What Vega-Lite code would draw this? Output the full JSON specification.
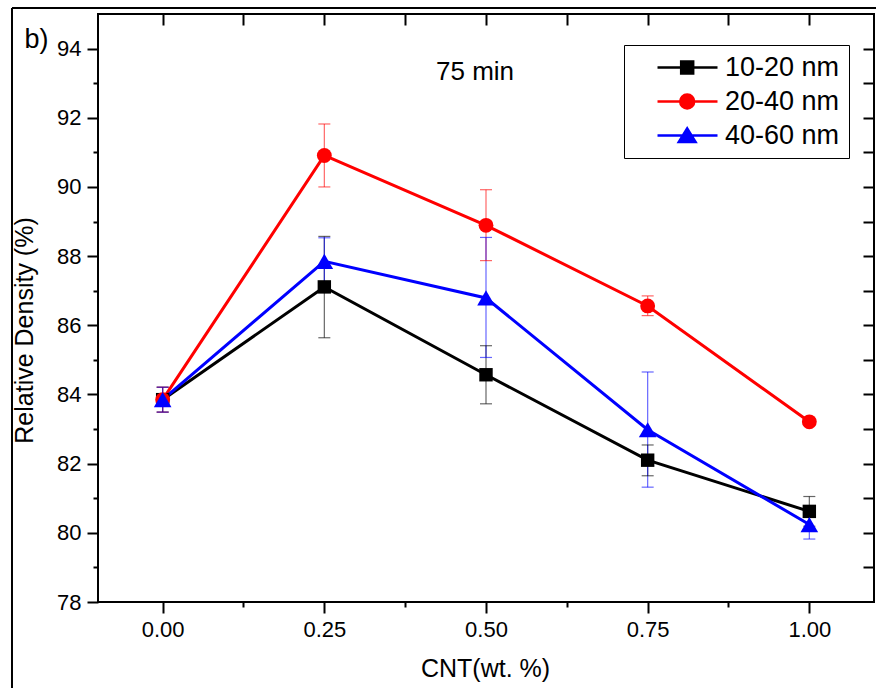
{
  "$schema": "https://vega.github.io/schema/vega-lite/v6.json",
  "width": 776,
  "height": 588,
  "autosize": "none",
  "padding": {"left": 98, "top": 14, "right": 2, "bottom": 86},
  "background": "white",
  "config": {
    "font": "Liberation Sans",
    "view": {"stroke": "black", "strokeWidth": 2},
    "axis": {
      "domain": false, "grid": false, "tickColor": "black", "tickWidth": 2,
      "labelFont": "Liberation Sans", "labelFontSize": 22, "labelColor": "black",
      "titleFont": "Liberation Sans", "titleFontSize": 25, "titleFontWeight": "normal", "titleColor": "black"
    }
  },
  "data": {
    "values": [
      {"cnt": 0, "series": "10-20 nm", "density": 83.85, "lo": 83.49, "hi": 84.21},
      {"cnt": 0.25, "series": "10-20 nm", "density": 87.11, "lo": 85.64, "hi": 88.57},
      {"cnt": 0.5, "series": "10-20 nm", "density": 84.57, "lo": 83.73, "hi": 85.41},
      {"cnt": 0.75, "series": "10-20 nm", "density": 82.10, "lo": 81.65, "hi": 82.54},
      {"cnt": 1.0, "series": "10-20 nm", "density": 80.62, "lo": 80.19, "hi": 81.05},
      {"cnt": 0, "series": "20-40 nm", "density": 83.85, "lo": 83.49, "hi": 84.21},
      {"cnt": 0.25, "series": "20-40 nm", "density": 90.91, "lo": 90.00, "hi": 91.82},
      {"cnt": 0.5, "series": "20-40 nm", "density": 88.89, "lo": 87.87, "hi": 89.92},
      {"cnt": 0.75, "series": "20-40 nm", "density": 86.56, "lo": 86.28, "hi": 86.85},
      {"cnt": 1.0, "series": "20-40 nm", "density": 83.21, "lo": 83.13, "hi": 83.29},
      {"cnt": 0, "series": "40-60 nm", "density": 83.85, "lo": 83.49, "hi": 84.21},
      {"cnt": 0.25, "series": "40-60 nm", "density": 87.85, "lo": 87.17, "hi": 88.53},
      {"cnt": 0.5, "series": "40-60 nm", "density": 86.79, "lo": 85.07, "hi": 88.54},
      {"cnt": 0.75, "series": "40-60 nm", "density": 82.98, "lo": 81.32, "hi": 84.65},
      {"cnt": 1.0, "series": "40-60 nm", "density": 80.24, "lo": 79.82, "hi": 80.66}
    ]
  },
  "layer": [
    {
      "mark": {"type": "rule", "strokeWidth": 1.2, "opacity": 0.6},
      "encoding": {
        "x": {"field": "cnt", "type": "quantitative",
          "scale": {"domain": [-0.1, 1.1], "nice": false, "zero": false},
          "axis": {"orient": "bottom", "values": [0, 0.25, 0.5, 0.75, 1], "format": ".2f", "tickSize": 11, "labelPadding": 6,
            "title": "CNT(wt. %)", "titleX": 387, "titleY": 66, "titleBaseline": "middle", "titleAlign": "center"}},
        "y": {"field": "lo", "type": "quantitative",
          "scale": {"domain": [78, 95], "nice": false, "zero": false},
          "axis": {"orient": "left", "values": [78, 80, 82, 84, 86, 88, 90, 92, 94], "tickSize": 11, "labelPadding": 6,
            "title": "Relative Density (%)", "titleX": -74, "titleY": 316, "titleAngle": -90, "titleBaseline": "middle", "titleAlign": "center"}},
        "y2": {"field": "hi"},
        "color": {"field": "series", "type": "nominal",
          "scale": {"domain": ["10-20 nm", "20-40 nm", "40-60 nm"], "range": ["#000000", "#ff0000", "#0000ff"]}}
      }
    },
    {
      "mark": {"type": "tick", "orient": "horizontal", "size": 12, "thickness": 1.2, "opacity": 0.6},
      "encoding": {
        "x": {"field": "cnt", "type": "quantitative",
          "axis": {"orient": "bottom", "values": [0.125, 0.375, 0.625, 0.875], "tickSize": 5, "labels": false, "title": null}},
        "y": {"field": "hi", "type": "quantitative",
          "axis": {"orient": "left", "values": [79, 81, 83, 85, 87, 89, 91, 93], "tickSize": 5, "labels": false, "title": null}},
        "color": {"field": "series", "type": "nominal"}
      }
    },
    {
      "mark": {"type": "tick", "orient": "horizontal", "size": 12, "thickness": 1.2, "opacity": 0.6},
      "encoding": {
        "x": {"field": "cnt", "type": "quantitative", "axis": null},
        "y": {"field": "lo", "type": "quantitative", "axis": null},
        "color": {"field": "series", "type": "nominal"}
      }
    },
    {
      "mark": {"type": "line", "strokeWidth": 3},
      "encoding": {
        "x": {"field": "cnt", "type": "quantitative",
          "axis": {"orient": "top", "values": [0, 0.125, 0.25, 0.375, 0.5, 0.625, 0.75, 0.875, 1], "tickSize": -11, "labels": false, "title": null}},
        "y": {"field": "density", "type": "quantitative",
          "axis": {"orient": "right", "values": [79, 80, 81, 82, 83, 84, 85, 86, 87, 88, 89, 90, 91, 92, 93, 94], "tickSize": -11, "labels": false, "title": null}},
        "color": {"field": "series", "type": "nominal",
          "legend": {
            "orient": "none", "legendX": 526, "legendY": 31, "title": null,
            "padding": 9, "strokeColor": "black", "fillColor": "white",
            "labelFont": "Liberation Sans", "labelFontSize": 27, "labelColor": "black",
            "labelOffset": 65, "rowPadding": 6, "symbolSize": 576, "symbolStrokeWidth": 2.5,
            "symbolOpacity": 1,
            "encode": {
              "symbols": {
                "update": {
                  "shape": {"signal": "datum.value === '10-20 nm' ? 'M0.917,0H5.917M2.89,-0.5H3.89V0.5H2.89Z' : datum.value === '20-40 nm' ? 'M0.917,0H5.917M2.807,0A0.583,0.583 0 1,0 3.973,0A0.583,0.583 0 1,0 2.807,0Z' : 'M0.917,0H5.917M3.39,-0.6L4.09,0.55L2.69,0.55Z'"},
                  "size": {"value": 576},
                  "fill": {"signal": "datum.value === '10-20 nm' ? '#000000' : datum.value === '20-40 nm' ? '#ff0000' : '#0000ff'"},
                  "stroke": {"signal": "datum.value === '10-20 nm' ? '#000000' : datum.value === '20-40 nm' ? '#ff0000' : '#0000ff'"},
                  "strokeWidth": {"value": 2.5},
                  "opacity": {"value": 1}
                }
              }
            }
          }}
      }
    },
    {
      "transform": [{"filter": "datum.series === '10-20 nm'"}],
      "mark": {"type": "point", "filled": true, "opacity": 1, "shape": "square", "size": 180},
      "encoding": {
        "x": {"field": "cnt", "type": "quantitative", "axis": null},
        "y": {"field": "density", "type": "quantitative", "axis": null},
        "color": {"field": "series", "type": "nominal"}
      }
    },
    {
      "transform": [{"filter": "datum.series === '20-40 nm'"}],
      "mark": {"type": "point", "filled": true, "opacity": 1, "shape": "circle", "size": 220},
      "encoding": {
        "x": {"field": "cnt", "type": "quantitative", "axis": null},
        "y": {"field": "density", "type": "quantitative", "axis": null},
        "color": {"field": "series", "type": "nominal"}
      }
    },
    {
      "transform": [{"filter": "datum.series === '40-60 nm'"}],
      "mark": {"type": "point", "filled": true, "opacity": 1, "shape": "triangle-up", "size": 310},
      "encoding": {
        "x": {"field": "cnt", "type": "quantitative", "axis": null},
        "y": {"field": "density", "type": "quantitative", "axis": null},
        "color": {"field": "series", "type": "nominal"}
      }
    },
    {
      "data": {"values": [{"label": "75 min"}]},
      "mark": {"type": "text", "fontSize": 26, "font": "Liberation Sans", "align": "center", "baseline": "middle", "color": "black"},
      "encoding": {
        "x": {"datum": 0.483, "type": "quantitative", "axis": null},
        "y": {"datum": 93.32, "type": "quantitative", "axis": null},
        "text": {"field": "label"}
      }
    },
    {
      "data": {"values": [{"label": "b)"}]},
      "mark": {"type": "text", "fontSize": 27, "font": "Liberation Sans", "align": "center", "baseline": "middle", "color": "black"},
      "encoding": {
        "x": {"datum": -0.195, "type": "quantitative", "axis": null},
        "y": {"datum": 94.25, "type": "quantitative", "axis": null},
        "text": {"field": "label"}
      }
    },
    {
      "data": {"values": [{}]},
      "mark": {"type": "rule", "strokeWidth": 2, "color": "black"},
      "encoding": {
        "x": {"datum": -0.233, "type": "quantitative", "axis": null},
        "y": {"datum": 75.3, "type": "quantitative", "axis": null},
        "y2": {"datum": 95.173}
      }
    },
    {
      "data": {"values": [{}]},
      "mark": {"type": "rule", "strokeWidth": 2, "color": "black"},
      "encoding": {
        "x": {"datum": -0.233, "type": "quantitative", "axis": null},
        "x2": {"datum": 1.11},
        "y": {"datum": 95.173, "type": "quantitative", "axis": null}
      }
    }
  ],
  "resolve": {"axis": {"x": "independent", "y": "independent"}}
}
